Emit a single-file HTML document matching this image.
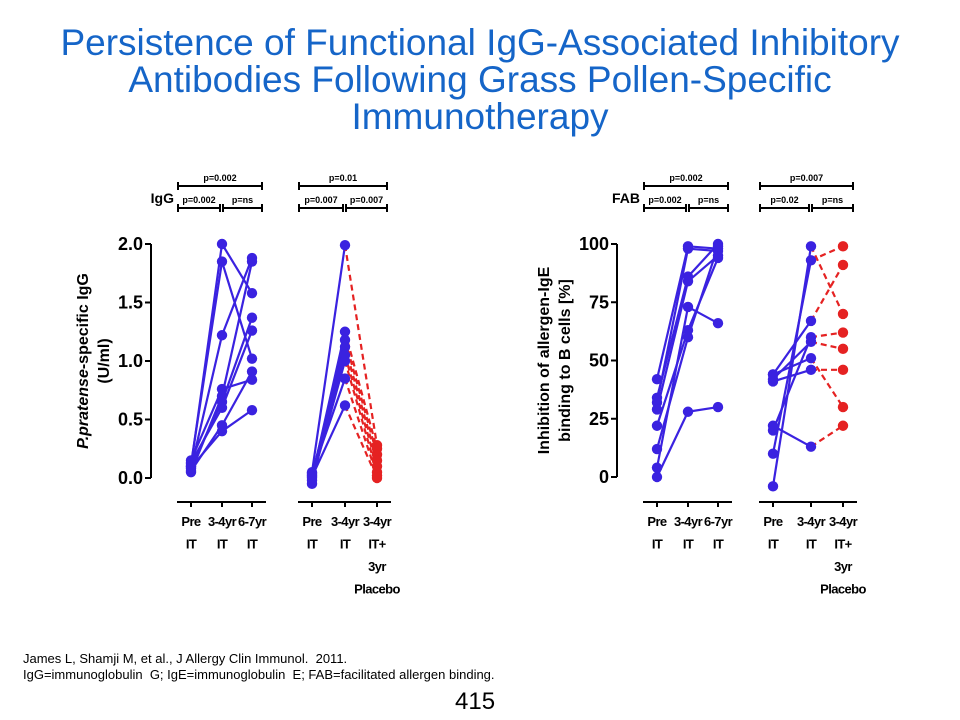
<!DOCTYPE html>
<html><head><meta charset="utf-8"><style>
body{margin:0;background:#fff;}
#wrap{position:relative;width:960px;height:720px;overflow:hidden;background:#fff;font-family:"Liberation Sans",sans-serif;}
#title{position:absolute;left:0;top:24px;width:960px;text-align:center;color:#1565c8;font-size:37px;line-height:37px;}
.foot{position:absolute;left:23px;font-size:13px;color:#000;}
#pg{position:absolute;left:455px;top:688px;font-size:24px;}
</style></head><body>
<div id="wrap">
<div id="title">Persistence of Functional IgG-Associated Inhibitory<br>Antibodies Following Grass Pollen-Specific<br>Immunotherapy</div>
<svg id="chart" width="960" height="720" style="position:absolute;left:0;top:0" font-family="Liberation Sans, sans-serif"></svg>
<div class="foot" style="top:651px">James L, Shamji M, et al., J Allergy Clin Immunol.&nbsp; 2011.</div>
<div class="foot" style="top:667px">IgG=immunoglobulin&nbsp; G; IgE=immunoglobulin&nbsp; E; FAB=facilitated allergen binding.</div>
<div id="pg">415</div>
</div>
<script>
// IgG panel data
const iggTicks = ["0.0","0.5","1.0","1.5","2.0"];
const iggTickVals = [0,0.5,1,1.5,2];
const iggGroupA = [[0.10,2.0,1.58],[0.12,1.85,1.02],[0.08,1.22,1.88],[0.15,0.76,0.84],[0.05,0.70,1.85],[0.10,0.65,1.37],[0.13,0.60,1.26],[0.06,0.45,0.91],[0.09,0.40,0.58]];
const iggGroupB = [[0.05,1.99,0.28],[0.00,1.25,0.25],[-0.05,1.18,0.20],[0.03,1.12,0.15],[0.02,1.05,0.10],[-0.02,1.00,0.05],[0.04,0.85,0.02],[0.01,0.62,0.00]];
// FAB panel data
const fabTicks = ["0","25","50","75","100"];
const fabTickVals = [0,25,50,75,100];
const fabGroupA = [[42,99,98],[34,86,100],[32,98,97],[29,84,95],[22,63,94],[12,60,99],[4,73,66],[0,28,30]];
const fabGroupB = [[-4,99,70],[10,93,99],[44,67,91],[20,60,62],[42,58,55],[44,51,30],[41,46,46],[22,13,22]];

const svg=document.getElementById('chart');
const NS='http://www.w3.org/2000/svg';
const BLUE='#3a22e0', RED='#e52222';
function mk(tag,attrs,parent){const e=document.createElementNS(NS,tag);for(const k in attrs)e.setAttribute(k,attrs[k]);(parent||svg).appendChild(e);return e;}
function txt(s,x,y,size,anchor,parent,weight){const t=mk('text',{x:x,y:y,'font-size':size,'text-anchor':anchor||'middle','font-weight':weight||'bold',fill:'#000'},parent);t.textContent=s;return t;}

function panel(cfg){
  const g=mk('g',{});
  
  
  const y=v=>cfg.y0+(v-cfg.vmin)/(cfg.vmax-cfg.vmin)*(cfg.y1-cfg.y0);
  const ax=mk('line',{x1:cfg.ax,x2:cfg.ax,y1:y(cfg.vmax),y2:y(cfg.vmin),stroke:'#000','stroke-width':2},g);
  
  
  cfg.tickVals.forEach((v,i)=>{
    mk('line',{x1:cfg.ax-6,x2:cfg.ax,y1:y(v),y2:y(v),stroke:'#000','stroke-width':2},g);
    const t=txt(cfg.ticks[i],cfg.ax-8,y(v)+6,18,'end',g);
    
    
  });
  const tt=mk('text',{transform:`translate(${cfg.titleX},${(y(cfg.vmin)+y(cfg.vmax))/2}) rotate(-90)`,'font-size':16,'text-anchor':'middle','font-weight':'bold'},g);
  
  
  cfg.title.forEach((ln,i)=>{const ts=mk('tspan',{x:0,dy:i?21:0},tt);ts.innerHTML=ln;});
  cfg.groups.forEach((grp,gi)=>{
    const xs=cfg.xs[gi];
    const bx=mk('line',{x1:xs[0]-14,x2:xs[2]+14,y1:502,y2:502,stroke:'#000','stroke-width':2},g);
    
    
    xs.forEach((x,i)=>{
      mk('line',{x1:x,x2:x,y1:502,y2:507,stroke:'#000','stroke-width':2},g);
      cfg.xl[gi][i].forEach((s,k)=>{const t=txt(s,x,526+k*22.5,13,'middle',g);
        t.setAttribute('letter-spacing','-0.6');
        
        });
    });
    const br=cfg.brackets[gi];
    const bk=(x1,x2,yy,lab)=>{
      mk('line',{x1:x1,x2:x2,y1:yy,y2:yy,stroke:'#000','stroke-width':2},g);
      mk('line',{x1:x1,x2:x1,y1:yy-4,y2:yy+4,stroke:'#000','stroke-width':2},g);
      mk('line',{x1:x2,x2:x2,y1:yy-4,y2:yy+4,stroke:'#000','stroke-width':2},g);
      const t=txt(lab,(x1+x2)/2,yy-5,9,'middle',g);
      
      
    };
    const L=xs[0]-13,M=(xs[0]+xs[1])/2+Math.max(0,(xs[1]-xs[0])/2-1),R=xs[2]+10;
    bk(L,R,186,br[0]); bk(L,M-1,208,br[1]); bk(M+2,R,208,br[2]);
    grp.data.forEach(row=>{
      const p=row.map((v,i)=>[xs[i],y(v)]);
      const l1=mk('line',{x1:p[0][0],y1:p[0][1],x2:p[1][0],y2:p[1][1],stroke:BLUE,'stroke-width':2.2},g);
      
      
      const l2=mk('line',{x1:p[1][0],y1:p[1][1],x2:p[2][0],y2:p[2][1],stroke:grp.red?RED:BLUE,'stroke-width':2.2,'stroke-dasharray':grp.red?'6,4':'none'},g);
      
      
      p.forEach((q,i)=>{const c=mk('circle',{cx:q[0],cy:q[1],r:5.2,fill:(grp.red&&i==2)?RED:BLUE},g);
        
        });
    });
  });
  const lab=txt(cfg.label,cfg.labelX,203,14,'end',g);
  
  
}
panel({name:'igg-panel',ax:151,vmin:0,vmax:2,y0:478,y1:244,ticks:iggTicks,tickVals:iggTickVals,titleX:88,
  title:['<tspan font-style="italic">P.pratense</tspan>-specific IgG','(U/ml)'],
  xs:[[191,222,252],[312,345,377]],
  xl:[[['Pre','IT'],['3-4yr','IT'],['6-7yr','IT']],[['Pre','IT'],['3-4yr','IT'],['3-4yr','IT+','3yr','Placebo']]],
  groups:[{data:iggGroupA,red:false},{data:iggGroupB,red:true}],
  brackets:[['p=0.002','p=0.002','p=ns'],['p=0.01','p=0.007','p=0.007']],label:'IgG',labelX:174});
panel({name:'fab-panel',ax:617,vmin:0,vmax:100,y0:477,y1:244,ticks:fabTicks,tickVals:fabTickVals,titleX:549,
  title:['Inhibition of allergen-IgE','binding to B cells [%]'],
  xs:[[657,688,718],[773,811,843]],
  xl:[[['Pre','IT'],['3-4yr','IT'],['6-7yr','IT']],[['Pre','IT'],['3-4yr','IT'],['3-4yr','IT+','3yr','Placebo']]],
  groups:[{data:fabGroupA,red:false},{data:fabGroupB,red:true}],
  brackets:[['p=0.002','p=0.002','p=ns'],['p=0.007','p=0.02','p=ns']],label:'FAB',labelX:640});
</script>
</body></html>
